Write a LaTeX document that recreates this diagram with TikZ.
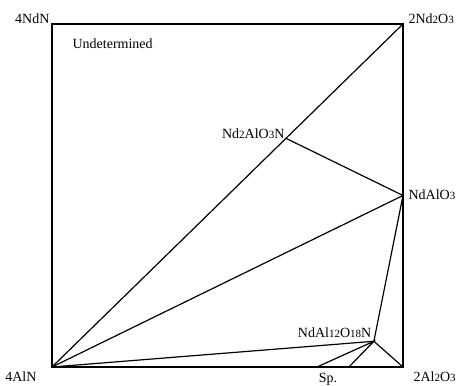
\documentclass[tikz,border=0pt]{standalone}
\usepackage{fontspec}
\setmainfont{Liberation Serif}
\newcommand{\dg}[1]{{\fontsize{11}{11}\selectfont #1}}
\begin{document}
\begin{tikzpicture}[x=351pt,y=343pt,line width=1.2pt,
    lbl/.style={inner sep=0pt,font=\fontsize{14}{16}\selectfont}]
    \useasboundingbox (-52pt,-19pt) rectangle (412pt,367pt);

    % corners of the square
    \coordinate (AlN) at (0,0);
    \coordinate (Al2O3) at (1,0);
    \coordinate (Nd2O3) at (1,1);
    \coordinate (NdN) at (0,1);

    % compounds
    \coordinate (NdAlO3) at (1,0.5);
    \coordinate (Nd2AlO3N) at (2/3,2/3);
    \coordinate (NdAl12O18N) at (0.917,0.075);
    \coordinate (sp1) at (0.755,0);
    \coordinate (sp2) at (0.846,0);

    % boundary
    \draw (AlN) -- (Al2O3) -- (Nd2O3) -- (NdN) -- cycle;

    % tie lines
    \draw (AlN) -- (Nd2AlO3N) -- (Nd2O3);
    \draw (Nd2AlO3N) -- (NdAlO3);
    \draw (AlN) -- (NdAlO3) -- (NdAl12O18N);
    \draw (AlN) -- (NdAl12O18N) -- (Al2O3);
    \draw (sp1) -- (NdAl12O18N) -- (sp2);

    % labels
    \node[lbl,anchor=base east,xshift=-2pt] (lNdN) at (NdN) {4NdN};
    \node[lbl,anchor=base west,xshift=5pt] (lNd2O3) at (Nd2O3) {2Nd\dg{2}O\dg{3}};
    \node[lbl,anchor=west] (undet) at (20pt,323pt) {Undetermined};
    \node[lbl,anchor=base east,xshift=-1pt] (lNd2AlO3N) at (Nd2AlO3N) {Nd\dg{2}AlO\dg{3}N};
    \node[lbl,anchor=west,xshift=5pt,yshift=1pt] (lNdAlO3) at (NdAlO3) {NdAlO\dg{3}};
    \node[lbl,anchor=base east,xshift=-2pt,yshift=4pt] (lNdAl12O18N) at (NdAl12O18N) {NdAl\dg{12}O\dg{18}N};
    \node[lbl,anchor=north] (lsp) at (276pt,-6pt) {Sp.};
    \node[lbl,anchor=base east] (lAlN) at (-15pt,-15pt) {4AlN};
    \node[lbl,anchor=base west] (lAl2O3) at (361pt,-15pt) {2Al\dg{2}O\dg{3}};
\end{tikzpicture}
\end{document}
